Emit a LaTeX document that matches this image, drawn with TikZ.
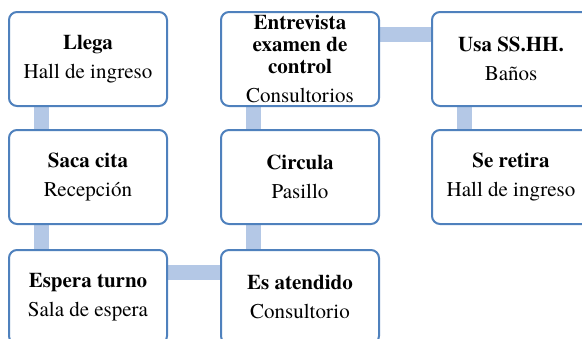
\documentclass[tikz,border=0pt]{standalone}
\usepackage{fontspec}
\setmainfont{texgyretermes}[Extension=.otf, UprightFont=*-regular, BoldFont=*-bold]
\usepackage{tikz}
\usetikzlibrary{positioning, backgrounds}
\definecolor{boxblue}{HTML}{4F81BD}
\definecolor{linkblue}{HTML}{B4C8E6}

\begin{document}
\begin{tikzpicture}[x=1pt, y=-1pt,
  box/.style={draw=boxblue, line width=2pt, rounded corners=8pt, fill=white,
    minimum width=158pt, minimum height=94pt, align=center, inner sep=0pt,
    execute at begin node={\rule{0pt}{20pt}}, font=\fontsize{21}{22}\selectfont},
  link/.style={draw=linkblue, line width=15pt}]
  \useasboundingbox (0,0) rectangle (582,338);
  \clip (0,0) rectangle (582,338);

  \node[box] (llega) at (88,59) {\textbf{Llega}\\[7pt]Hall de ingreso};
  \node[box] (cita) at (88,177) {\textbf{Saca cita}\\[7pt]Recepción};
  \node[box] (espera) at (88,297) {\textbf{Espera turno}\\[7pt]Sala de espera};

  \node[box] (atendido) at (300,297) {\textbf{Es atendido}\\[7pt]Consultorio};
  \node[box] (circula) at (300,177) {\textbf{Circula}\\[7pt]Pasillo};
  \node[box] (entrevista) at (300,59) {\textbf{Entrevista}\\\textbf{examen de}\\\textbf{control}\\[7pt]Consultorios};

  \node[box] (usa) at (511,59) {\textbf{Usa SS.HH.}\\[7pt]Baños};
  \node[box] (retira) at (511,177) {\textbf{Se retira}\\[7pt]Hall de ingreso};

  % links behind the boxes
  \begin{scope}[on background layer]
    \draw[link] ([xshift=33.5pt]llega.south west) -- ([xshift=33.5pt]cita.north west);
    \draw[link] ([xshift=33.5pt]cita.south west) -- ([xshift=33.5pt]espera.north west);
    \draw[link] ([yshift=-23.5pt]espera.north east) -- ([yshift=-23.5pt]atendido.north west);
    \draw[link] ([xshift=33.5pt]atendido.north west) -- ([xshift=33.5pt]circula.south west);
    \draw[link] ([xshift=33.5pt]circula.north west) -- ([xshift=33.5pt]entrevista.south west);
    \draw[link] ([yshift=-23.5pt]entrevista.north east) -- ([yshift=-23.5pt]usa.north west);
    \draw[link] ([xshift=33.5pt]usa.south west) -- ([xshift=33.5pt]retira.north west);
  \end{scope}
\end{tikzpicture}
\end{document}
